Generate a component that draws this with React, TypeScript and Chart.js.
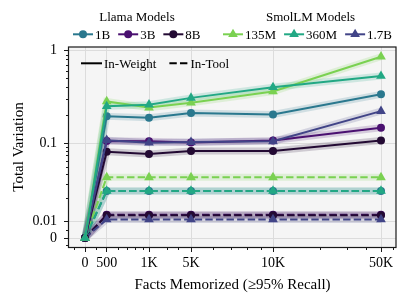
import React, { useEffect, useRef } from 'react';
import { Chart, LinearScale, registerables } from 'chart.js';

// ---------- data ----------
const facts = [0, 500, 1000, 5000, 10000, 50000];
const xTickLabels = ['0', '500', '1K', '5K', '10K', '50K'];
const xMinorTicks = [-250, 250, 600, 700, 800, 900, 2000, 3000, 6000, 7000, 8000, 9000, 20000, 30000, 40000, 60000];
const yTickValues = [0, 0.01, 0.1, 1];
const yTickLabels = ['0', '0.01', '0.1', '1'];
const yMinorTicks = [-0.004, 0.005, 0.02, 0.03, 0.04, 0.05, 0.06, 0.07, 0.08, 0.09, 0.2, 0.3, 0.4, 0.5, 0.6, 0.7, 0.8, 0.9];

const llama1BWeight = [0, 0.195, 0.188, 0.212, 0.204, 0.336];
const llama3BWeight = [0, 0.106, 0.105, 0.102, 0.107, 0.147];
const llama8BWeight = [0, 0.078, 0.073, 0.08, 0.08, 0.107];
const smol135MWeight = [0, 0.282, 0.242, 0.273, 0.36, 0.853];
const smol360MWeight = [0, 0.25, 0.26, 0.308, 0.4, 0.529];
const smol1_7BWeight = [0, 0.108, 0.1015, 0.103, 0.105, 0.222];

const llama1BTool = [0, 0.0247, 0.0247, 0.0247, 0.0247, 0.0247];
const llama3BTool = [0, 0.0123, 0.0123, 0.0123, 0.0123, 0.0123];
const llama8BTool = [0, 0.0121, 0.0121, 0.0121, 0.0121, 0.0121];
const smol135MTool = [0, 0.0368, 0.0368, 0.0368, 0.0368, 0.0368];
const smol360MTool = [0, 0.0247, 0.0247, 0.0247, 0.0247, 0.0247];
const smol1_7BTool = [0, 0.0107, 0.0107, 0.0107, 0.0107, 0.0107];

// ---------- scale definitions (axis warps) ----------
type Warp = { values: number[]; units: number[]; min: number; max: number };
const xWarp: Warp = { values: facts, units: [0, 21.7, 64, 106, 188, 296], min: -16, max: 311 };
const yWarp: Warp = { values: yTickValues, units: [0, 16.3, 94.7, 187.7], min: -9, max: 191 };

function warpForward(v: number, w: Warp): number {
  const { values, units } = w;
  let i = 0;
  while (i < values.length - 2 && v > values[i + 1]) i++;
  const a = values[i], b = values[i + 1], ua = units[i], ub = units[i + 1];
  const t = a > 0 && v > 0 ? Math.log(v / a) / Math.log(b / a) : (v - a) / (b - a);
  return ua + t * (ub - ua);
}
function warpInverse(u: number, w: Warp): number {
  const { values, units } = w;
  let i = 0;
  while (i < units.length - 2 && u > units[i + 1]) i++;
  const a = values[i], b = values[i + 1], ua = units[i], ub = units[i + 1];
  const t = (u - ua) / (ub - ua);
  return a > 0 ? a * Math.pow(b / a, t) : a + t * (b - a);
}
function makeWarpScale(scaleId: string, warp: Warp) {
  return class extends LinearScale {
    static id = scaleId;
    static defaults = {};
    determineDataLimits() {
      this.min = warp.values[0];
      this.max = warp.values[warp.values.length - 1];
    }
    buildTicks() {
      return warp.values.map((v) => ({ value: v }));
    }
    getPixelForValue(value: number) {
      const u = warpForward(value, warp);
      return this.getPixelForDecimal((u - warp.min) / (warp.max - warp.min));
    }
    getValueForPixel(pixel: number) {
      const d = this.getDecimalForPixel(pixel);
      return warpInverse(warp.min + d * (warp.max - warp.min), warp);
    }
  };
}
const XWarpScale = makeWarpScale('xwarp', xWarp);
const YWarpScale = makeWarpScale('ywarp', yWarp);
Chart.register(...registerables, XWarpScale as any, YWarpScale as any);

// ---------- series ----------
type Model = { label: string; color: string; style: 'circle' | 'triangle'; weight: number[]; tool: number[]; z: number };
const llamaModels: Model[] = [
  { label: '1B', color: '#2a788e', style: 'circle', weight: llama1BWeight, tool: llama1BTool, z: 5 },
  { label: '3B', color: '#4a1070', style: 'circle', weight: llama3BWeight, tool: llama3BTool, z: 6 },
  { label: '8B', color: '#230a33', style: 'circle', weight: llama8BWeight, tool: llama8BTool, z: 4 },
];
const smolModels: Model[] = [
  { label: '135M', color: '#7ad151', style: 'triangle', weight: smol135MWeight, tool: smol135MTool, z: 2 },
  { label: '360M', color: '#22a884', style: 'triangle', weight: smol360MWeight, tool: smol360MTool, z: 1 },
  { label: '1.7B', color: '#414487', style: 'triangle', weight: smol1_7BWeight, tool: smol1_7BTool, z: 3 },
];

function hexA(hex: string, a: number) {
  const n = parseInt(hex.slice(1), 16);
  return `rgba(${(n >> 16) & 255},${(n >> 8) & 255},${n & 255},${a})`;
}
const pts = (arr: number[]) => facts.map((x, i) => ({ x, y: arr[i] }));
const DASH = [7.4, 3.2];

function buildDatasets() {
  const ds: any[] = [];
  [...llamaModels, ...smolModels].forEach((m) => {
    const r = m.style === 'circle' ? 4 : 5.6;
    for (const kind of ['weight', 'tool'] as const) {
      const data = pts(m[kind]);
      ds.push({
        label: m.label + ' band ' + kind,
        data,
        borderColor: hexA(m.color, 0.18),
        borderWidth: 7,
        pointRadius: 0,
        fill: false,
        tension: 0,
        order: 100,
      });
      ds.push({
        label: m.label + ' ' + kind,
        data,
        borderColor: m.color,
        backgroundColor: m.color,
        borderWidth: 2,
        borderDash: kind === 'tool' ? DASH : [],
        pointStyle: m.style,
        pointRadius: r,
        pointBackgroundColor: m.color,
        pointBorderColor: m.color,
        pointBorderWidth: 0,
        fill: false,
        tension: 0,
        order: (kind === 'tool' ? 20 : 10) + m.z,
      });
    }
  });
  return ds;
}

// ---------- decorations ----------
const SERIF = '"Liberation Serif", "Times New Roman", serif';

function drawMarker(ctx: CanvasRenderingContext2D, style: string, x: number, y: number, color: string) {
  ctx.fillStyle = color;
  ctx.beginPath();
  if (style === 'circle') {
    ctx.arc(x, y, 4, 0, Math.PI * 2);
  } else {
    const r = 5.6;
    ctx.moveTo(x, y - r);
    ctx.lineTo(x + r * 0.866, y + r * 0.5);
    ctx.lineTo(x - r * 0.866, y + r * 0.5);
    ctx.closePath();
  }
  ctx.fill();
}

function drawGroup(ctx: CanvasRenderingContext2D, title: string, titleX: number, startX: number, models: Model[]) {
  ctx.font = `13px ${SERIF}`;
  ctx.fillStyle = '#000';
  ctx.textAlign = 'center';
  ctx.textBaseline = 'alphabetic';
  ctx.fillText(title, titleX, 20.7);
  let x = startX;
  const y = 34.3;
  ctx.textAlign = 'left';
  models.forEach((m) => {
    ctx.strokeStyle = m.color;
    ctx.lineWidth = 2;
    ctx.setLineDash([]);
    ctx.beginPath();
    ctx.moveTo(x, y);
    ctx.lineTo(x + 20, y);
    ctx.stroke();
    drawMarker(ctx, m.style, x + 10, y, m.color);
    ctx.fillStyle = '#000';
    ctx.fillText(m.label, x + 22, 38.6);
    x += 22 + ctx.measureText(m.label).width + 8;
  });
}

const decorPlugin = {
  id: 'decor',
  beforeDraw(chart: any) {
    const { ctx, chartArea: a } = chart;
    ctx.save();
    ctx.fillStyle = '#f5f5f5';
    ctx.fillRect(a.left, a.top, a.right - a.left, a.bottom - a.top);
    ctx.restore();
  },
  afterDraw(chart: any) {
    const { ctx, chartArea: a } = chart;
    const xs = chart.scales.x;
    const ys = chart.scales.y;
    ctx.save();
    // frame
    ctx.strokeStyle = '#1a1a1a';
    ctx.lineWidth = 1.2;
    ctx.setLineDash([]);
    ctx.strokeRect(a.left - 0.5, a.top, a.right - a.left + 0.5, a.bottom - a.top + 0.5);
    // minor ticks
    ctx.lineWidth = 1;
    ctx.beginPath();
    xMinorTicks.forEach((v) => {
      const px = Math.round(xs.getPixelForValue(v)) + 0.5;
      if (px > a.left && px < a.right) {
        ctx.moveTo(px, a.bottom);
        ctx.lineTo(px, a.bottom + 3);
      }
    });
    yMinorTicks.forEach((v) => {
      const py = Math.round(ys.getPixelForValue(v)) + 0.5;
      if (py > a.top && py < a.bottom) {
        ctx.moveTo(a.left, py);
        ctx.lineTo(a.left - 3, py);
      }
    });
    ctx.stroke();
    // top legends
    drawGroup(ctx, 'Llama Models', 137, 73, llamaModels);
    drawGroup(ctx, 'SmolLM Models', 310.5, 223, smolModels);
    // in-plot style legend
    ctx.font = `13px ${SERIF}`;
    ctx.textAlign = 'left';
    ctx.textBaseline = 'alphabetic';
    ctx.strokeStyle = '#000';
    ctx.fillStyle = '#000';
    ctx.lineWidth = 2;
    const ly = 63.3;
    let lx = 81;
    ctx.beginPath();
    ctx.moveTo(lx, ly);
    ctx.lineTo(lx + 21, ly);
    ctx.stroke();
    ctx.fillText('In-Weight', lx + 23, 68.2);
    lx = lx + 23 + ctx.measureText('In-Weight').width + 13;
    ctx.setLineDash(DASH);
    ctx.beginPath();
    ctx.moveTo(lx, ly);
    ctx.lineTo(lx + 19, ly);
    ctx.stroke();
    ctx.setLineDash([]);
    ctx.fillText('In-Tool', lx + 21, 68.2);
    ctx.restore();
  },
};

export default function App() {
  const ref = useRef<HTMLCanvasElement>(null);
  useEffect(() => {
    const tickFont = { family: SERIF, size: 14 };
    const titleFont = { family: SERIF, size: 15 };
    const grid = {
      color: '#dcdcdc',
      lineWidth: 1,
      drawTicks: true,
      tickLength: 5,
      tickColor: '#1a1a1a',
      tickWidth: 1,
    };
    const chart = new Chart(ref.current as HTMLCanvasElement, {
      type: 'line',
      data: { datasets: buildDatasets() },
      plugins: [decorPlugin],
      options: {
        responsive: false,
        animation: false,
        devicePixelRatio: 1,
        events: [],
        layout: { padding: { left: 0, right: 12, top: 47, bottom: 0 } },
        plugins: { legend: { display: false }, tooltip: { enabled: false } },
        scales: {
          x: {
            type: 'xwarp' as any,
            grid,
            border: { display: false },
            ticks: {
              autoSkip: false,
              maxRotation: 0,
              padding: 3,
              color: '#000',
              font: tickFont,
              callback: (_v: any, i: number) => xTickLabels[i],
            },
            title: { display: true, text: 'Facts Memorized (≥95% Recall)', color: '#000', font: titleFont, padding: { top: 0, bottom: 10 } },
            afterFit: (s: any) => { s.height = 57; },
          },
          y: {
            type: 'ywarp' as any,
            grid,
            border: { display: false },
            ticks: {
              autoSkip: false,
              padding: 7,
              color: '#000',
              font: tickFont,
              callback: (_v: any, i: number) => yTickLabels[i],
            },
            title: { display: true, text: 'Total Variation', color: '#000', font: titleFont, padding: { top: 10, bottom: 0 } },
            afterFit: (s: any) => { s.width = 69; },
          },
        },
      } as any,
    });
    return () => chart.destroy();
  }, []);
  return (
    <div style={{ position: 'fixed', left: 0, top: 0, width: 408, height: 304, background: '#fff' }}>
      <canvas ref={ref} width={408} height={304} style={{ display: 'block', width: 408, height: 304 }} />
    </div>
  );
}
